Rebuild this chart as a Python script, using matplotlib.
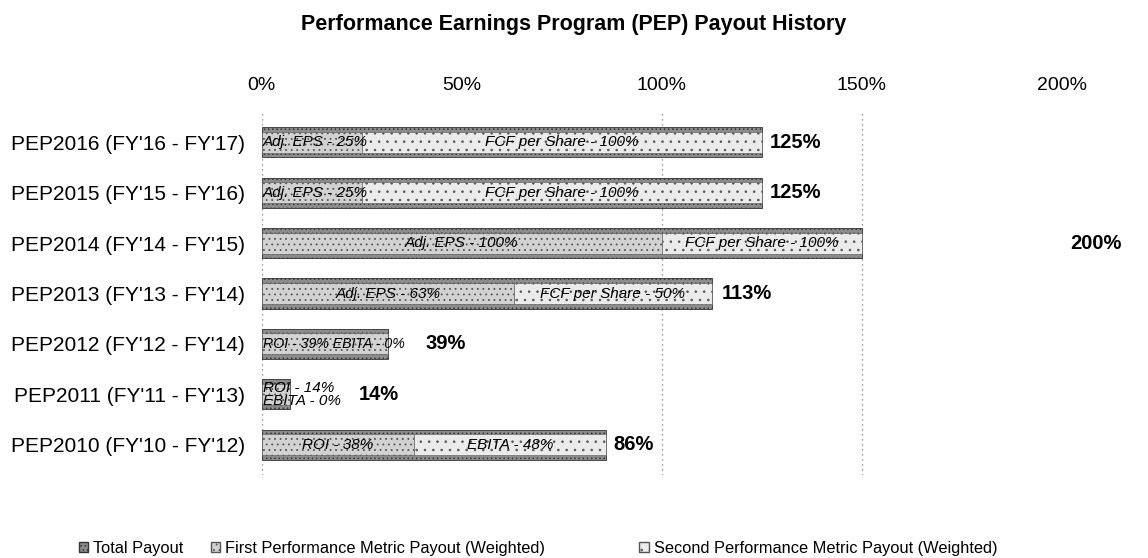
import matplotlib
matplotlib.use("Agg")
import matplotlib.pyplot as plt
from matplotlib.patches import Patch
from matplotlib.ticker import FuncFormatter

# ---- data (top row first) ----
categories = ["PEP2016 (FY'16 - FY'17)", "PEP2015 (FY'15 - FY'16)", "PEP2014 (FY'14 - FY'15)",
              "PEP2013 (FY'13 - FY'14)", "PEP2012 (FY'12 - FY'14)", "PEP2011 (FY'11 - FY'13)",
              "PEP2010 (FY'10 - FY'12)"]
first_labels = ["Adj. EPS - 25%", "Adj. EPS - 25%", "Adj. EPS - 100%", "Adj. EPS - 63%",
                "ROI - 39%", "ROI - 14%", "ROI - 38%"]
second_labels = ["FCF per Share - 100%", "FCF per Share - 100%", "FCF per Share - 100%",
                 "FCF per Share - 50%", "EBITA - 0%", "EBITA - 0%", "EBITA - 48%"]
# bar extents as drawn in the reference (percent)
first_drawn = [25, 25, 100, 63, 31.5, 7, 38]
second_drawn = [100, 100, 50, 49.5, 0, 0, 48]
# labelled total payout
total_payout = [125, 125, 200, 113, 39, 14, 86]
xticks = [0, 50, 100, 150, 200]
grid_at = [100, 150]
legend_labels = ["Total Payout", "First Performance Metric Payout (Weighted)",
                 "Second Performance Metric Payout (Weighted)"]

plt.rcParams['font.family'] = ['Liberation Sans', 'DejaVu Sans']
plt.rcParams['hatch.linewidth'] = 0.6

fig = plt.figure(figsize=(11.48, 5.58), dpi=100)
ax = fig.add_axes([0.228, 0.149, 0.697, 0.650])

n = len(categories)
ypos = list(range(n))[::-1]
totals_drawn = [a + b for a, b in zip(first_drawn, second_drawn)]

c_total, c_first, c_second = '#8c8c8c', '#d2d2d2', '#ebebeb'
ax.barh(ypos, totals_drawn, height=0.6, color=c_total, edgecolor='#333333',
        linewidth=0.6, hatch='....', zorder=2)
ax.barh(ypos, first_drawn, height=0.42, color=c_first, edgecolor='#555555',
        linewidth=0.4, hatch='...', zorder=3)
ax.barh(ypos, second_drawn, left=first_drawn, height=0.42, color=c_second,
        edgecolor='#555555', linewidth=0.4, hatch='..', zorder=3)

ax.set_xlim(0, 200)
ax.set_ylim(-0.6, n - 0.4)

fig.canvas.draw()
renderer = fig.canvas.get_renderer()
inv = ax.transData.inverted()


def data_x(px):
    return inv.transform((px, 0))[0]


seg_fs = 11
for y, f, s, fl, sl, tot in zip(ypos, first_drawn, second_drawn, first_labels,
                                second_labels, total_payout):
    texts = []
    if s > 0:
        texts.append(ax.text(f / 2, y, fl, ha='center', va='center', fontsize=seg_fs,
                             style='italic', zorder=5))
        texts.append(ax.text(f + s / 2, y, sl, ha='center', va='center', fontsize=seg_fs,
                             style='italic', zorder=5))
    elif f > 20:
        t = ax.text(0.3, y, fl + " " + sl, ha='left', va='center',
                    fontsize=seg_fs, style='italic', zorder=5)
        bb = t.get_window_extent(renderer)
        width = data_x(bb.x1) - data_x(bb.x0)
        if width > f - 0.6:
            t.set_fontsize(max(10.2, seg_fs * (f - 0.6) / width))
        texts.append(t)
    else:
        texts.append(ax.text(0.3, y, fl + "\n" + sl, ha='left', va='center',
                             fontsize=seg_fs, style='italic', zorder=5, linespacing=0.95))
    # keep labels from spilling left of the bar start
    for t in texts:
        x0 = data_x(t.get_window_extent(renderer).x0)
        if x0 < 0.3:
            t.set_x(t.get_position()[0] + (0.3 - x0))
    right = max(data_x(t.get_window_extent(renderer).x1) for t in texts)
    xlab = max(tot + 2, right + 4.5)
    ax.text(xlab, y, f"{tot}%", ha='left', va='center', fontsize=14.5,
            fontweight='bold', zorder=5)

for g in grid_at:
    ax.axvline(g, color='#777777', linestyle=(0, (1, 3)), linewidth=0.9, zorder=1)
ax.axvline(0, color='#777777', linestyle=(0, (1, 3)), linewidth=0.9, zorder=1)

ax.set_xticks(xticks)
ax.xaxis.set_major_formatter(FuncFormatter(lambda v, p: f"{v:.0f}%"))
ax.xaxis.tick_top()
ax.tick_params(axis='x', length=0, labelsize=14, pad=13)
ax.set_yticks(ypos)
ax.set_yticklabels(categories)
ax.tick_params(axis='y', length=0, labelsize=15, pad=12)
for sp in ax.spines.values():
    sp.set_visible(False)

fig.suptitle("Performance Earnings Program (PEP) Payout History", fontsize=15.5,
             fontweight='bold', y=0.975)

handles = [Patch(facecolor=c_total, edgecolor='#333333', hatch='....'),
           Patch(facecolor=c_first, edgecolor='#555555', hatch='...'),
           Patch(facecolor=c_second, edgecolor='#555555', hatch='..')]
leg_x = [0.057, 0.172, 0.545]
for h, lab, lx in zip(handles, legend_labels, leg_x):
    fig.legend([h], [lab], loc='lower left', bbox_to_anchor=(lx, -0.02), frameon=False,
               fontsize=11.8, handlelength=0.6, handleheight=0.6, handletextpad=0.3,
               borderpad=0.3)

fig.savefig("out.png", dpi=100)
